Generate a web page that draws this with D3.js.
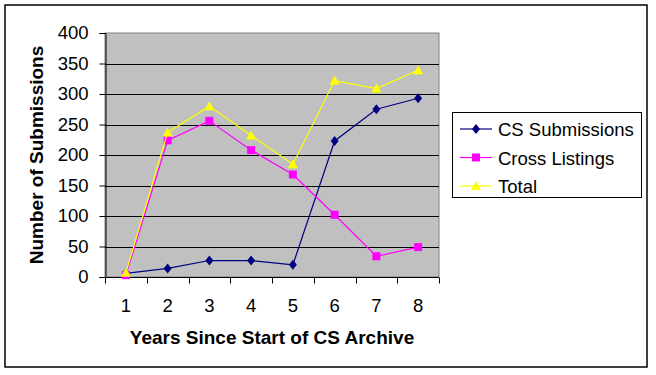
<!DOCTYPE html>
<html>
<head>
<meta charset="utf-8">
<script src="https://cdn.jsdelivr.net/npm/d3@7.9.0/dist/d3.min.js"></script>
<style>
  body { margin: 0; background: #fff; }
  svg text { font-family: Arial, "Liberation Sans", sans-serif; fill: #000; }
</style>
</head>
<body>
<svg id="chart" width="656" height="375"></svg>
<script>
// data
const years = [1, 2, 3, 4, 5, 6, 7, 8];
const csSubmissions = [6, 14, 27, 27, 20, 223, 275, 293];
const crossListings = [3, 224, 256, 208, 168, 102, 34, 49];
const total = [7, 237, 280, 232, 185, 322, 309, 339];
const yTicks = [0, 50, 100, 150, 200, 250, 300, 350, 400];

const series = [
  { name: "CS Submissions", values: csSubmissions, color: "#000080", marker: "diamond" },
  { name: "Cross Listings", values: crossListings, color: "#ff00ff", marker: "square" },
  { name: "Total", values: total, color: "#ffff00", marker: "triangle" }
];

const svg = d3.select("#chart");

// outer frame
svg.append("rect")
  .attr("x", 5).attr("y", 5).attr("width", 642).attr("height", 362)
  .attr("fill", "#fff").attr("stroke", "#000").attr("stroke-width", 1.5);

const plot = { left: 105, top: 33, right: 439, bottom: 277 };

const x = d3.scaleBand().domain(years).range([plot.left, plot.right]).padding(0);
const y = d3.scaleLinear().domain([0, 400]).range([plot.bottom, plot.top]);

// plot background
svg.append("rect")
  .attr("x", plot.left).attr("y", plot.top)
  .attr("width", plot.right - plot.left).attr("height", plot.bottom - plot.top)
  .attr("fill", "#c0c0c0").attr("stroke", "#808080");

// gridlines
svg.append("g")
  .selectAll("line")
  .data(yTicks.filter(d => d > 0 && d < 400))
  .join("line")
  .attr("x1", plot.left).attr("x2", plot.right)
  .attr("y1", d => Math.round(y(d)) + 0.5).attr("y2", d => Math.round(y(d)) + 0.5)
  .attr("stroke", "#000");

// y axis
const yAxis = svg.append("g")
  .attr("transform", `translate(${plot.left + 0.5},0)`)
  .call(d3.axisLeft(y).tickValues(yTicks).tickSize(6).tickPadding(11));
yAxis.select(".domain").attr("stroke", "#000");
yAxis.selectAll(".tick line").attr("stroke", "#000");
yAxis.selectAll("text").attr("font-size", 18.5).attr("font-family", "Arial, 'Liberation Sans', sans-serif");

// x axis (ticks at band edges)
const xAxisG = svg.append("g").attr("transform", `translate(0,${plot.bottom + 0.5})`);
xAxisG.append("line")
  .attr("x1", plot.left).attr("x2", plot.right).attr("stroke", "#000");
const edges = years.map(d => x(d)).concat([x(years[years.length - 1]) + x.bandwidth()]);
xAxisG.selectAll("line.tk")
  .data(edges)
  .join("line").attr("class", "tk")
  .attr("x1", d => Math.round(d) + 0.5).attr("x2", d => Math.round(d) + 0.5)
  .attr("y1", 0).attr("y2", 6).attr("stroke", "#000");
xAxisG.selectAll("text")
  .data(years)
  .join("text")
  .attr("x", d => x(d) + x.bandwidth() / 2)
  .attr("y", 34)
  .attr("text-anchor", "middle")
  .attr("font-size", 18.5)
  .text(d => d);

// axis titles
svg.append("text")
  .attr("x", (plot.left + plot.right) / 2).attr("y", 344)
  .attr("text-anchor", "middle")
  .attr("font-size", 19).attr("font-weight", "bold")
  .text("Years Since Start of CS Archive");

svg.append("text")
  .attr("transform", `translate(43,${(plot.top + plot.bottom) / 2}) rotate(-90)`)
  .attr("text-anchor", "middle")
  .attr("font-size", 19).attr("font-weight", "bold")
  .text("Number of Submissions");

// markers
function markerPath(type) {
  if (type === "diamond") return "M0,-5L4,0L0,5L-4,0Z";
  if (type === "square") return "M-4,-4H4V4H-4Z";
  return "M0,-5L5,4H-5Z";
}

const line = d3.line()
  .x((d, i) => x(years[i]) + x.bandwidth() / 2)
  .y(d => y(d));

series.forEach(s => {
  const g = svg.append("g");
  g.append("path")
    .attr("d", line(s.values))
    .attr("fill", "none")
    .attr("stroke", s.color)
    .attr("stroke-width", 1.2);
  g.selectAll("path.m")
    .data(s.values)
    .join("path").attr("class", "m")
    .attr("transform", (d, i) => `translate(${x(years[i]) + x.bandwidth() / 2},${y(d)})`)
    .attr("d", markerPath(s.marker))
    .attr("fill", s.color);
});

// legend
const legend = svg.append("g");
legend.append("rect")
  .attr("x", 452.5).attr("y", 112.5).attr("width", 189).attr("height", 85)
  .attr("fill", "#fff").attr("stroke", "#000");
series.forEach((s, i) => {
  const cy = 129 + i * 28.5;
  legend.append("line")
    .attr("x1", 460).attr("x2", 492).attr("y1", cy).attr("y2", cy)
    .attr("stroke", s.color).attr("stroke-width", 1.2);
  legend.append("path")
    .attr("transform", `translate(476,${cy})`)
    .attr("d", markerPath(s.marker))
    .attr("fill", s.color);
  legend.append("text")
    .attr("x", 498).attr("y", cy + 7)
    .attr("font-size", 18.5)
    .text(s.name);
});
</script>
</body>
</html>
